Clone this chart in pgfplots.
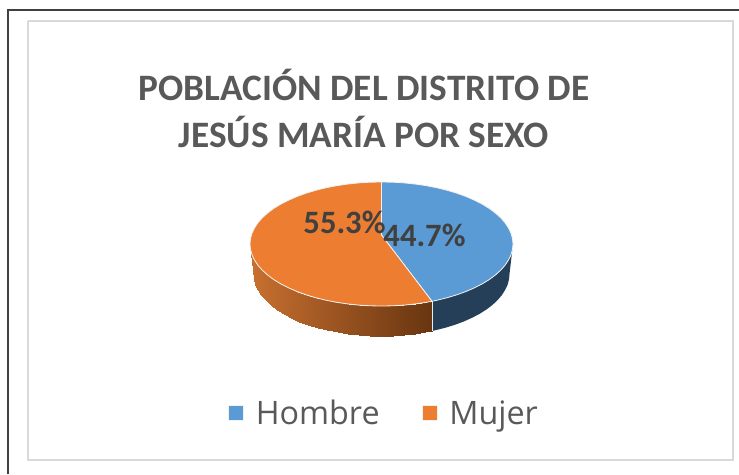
\documentclass[border=0pt]{standalone}
\usepackage{pgfplots}
\pgfplotsset{compat=1.18}
\usepackage{fontspec}
\setmainfont{Carlito}
\newfontfamily\legfont{Open Sans}
\definecolor{cblue}{HTML}{5B9BD5}
\definecolor{corange}{HTML}{ED7D31}
\definecolor{dblue}{HTML}{243F57}
\definecolor{ctext}{HTML}{595959}
\definecolor{clabel}{HTML}{404040}
\definecolor{cframe}{HTML}{D9D9D9}
\definecolor{cdark}{HTML}{404040}
\begin{document}
\begin{tikzpicture}
\begin{axis}[
  scale only axis, width=739pt, height=474pt,
  xmin=0, xmax=739, ymin=0, ymax=474, y dir=reverse,
  hide axis,
  colormap={side}{rgb255(0)=(200,112,48) rgb255(1)=(104,53,16)},
  point meta min=250, point meta max=432,
  legend columns=2,
  legend style={at={(axis cs:228,413)}, anchor=west, draw=none, fill=none,
    font=\legfont\fontsize{32.3}{36}\selectfont\color{ctext},
    inner sep=0pt, outer sep=0pt,
    /tikz/every even column/.append style={column sep=40pt}},
  legend cell align=left,
  legend image code/.code={\path[#1] (0pt,-7.5pt) rectangle (15pt,7.5pt); \path (25pt,0pt);},
]
\path (axis cs:0,0) (axis cs:739,474);
% frames
\addplot[forget plot, line width=1.3pt, color=cdark] coordinates {(8,474)(8,10)(739,10)};
\addplot[forget plot, line width=1.3pt, color=cframe] coordinates {(28,21)(733,21)(733,460)(28,460)(28,21)};
% blue side
\addplot[forget plot, fill=dblue, draw=none] coordinates {
(513,244)(512.5,249.4)(511,254.8)(508.5,260)(505.1,265.2)(500.7,270.2)(495.4,275)(489.2,279.6)(482.2,283.9)(474.5,287.8)(466,291.5)(456.9,294.8)(447.25,297.7)(437.1,300.2)(432,301.3)
(432,331)(435.6,330.2)(445.5,327.7)(454.9,324.8)(463.8,321.5)(472,317.8)(479.5,313.9)(486.3,309.6)(492.4,305)(497.5,300.2)(501.8,295.2)(505.1,290)(507.6,284.8)(509,279.4)(509.5,274)(513,244)};
% orange side
\addplot[forget plot, surf, shader=interp, mesh/rows=2, point meta=explicit]
table[x=x, y=y, meta=m] {
x y m
432 301.3 432
426.5 302.3 426.5
415.5 303.9 415.5
404.3 305.1 404.3
393 305.8 393
381.5 306 381.5
370 305.8 370
358.7 305.1 358.7
347.5 303.9 347.5
336.5 302.3 336.5
325.9 300.2 325.9
315.75 297.7 315.75
306.1 294.8 306.1
297 291.5 297
288.5 287.8 288.5
280.8 283.9 280.8
273.8 279.6 273.8
267.6 275 267.6
262.3 270.2 262.3
257.9 265.2 257.9
254.5 260 254.5
252 254.8 252
250.5 249.4 250.5
250 244 250
432 331 432
425.3 332.3 425.3
414.6 333.9 414.6
403.7 335.1 403.7
392.7 335.8 392.7
381.5 336 381.5
370.3 335.8 370.3
359.3 335.1 359.3
348.4 333.9 348.4
337.7 332.3 337.7
327.4 330.2 327.4
317.5 327.7 317.5
308.1 324.8 308.1
299.2 321.5 299.2
291 317.8 291
283.5 313.9 283.5
276.7 309.6 276.7
270.6 305 270.6
265.5 300.2 265.5
261.2 295.2 261.2
257.9 290 257.9
255.4 284.8 255.4
254 279.4 254
253.5 274 253.5
};
\addplot[forget plot, color=white!85!gray, line width=0.9pt] coordinates {(432,301.3)(432,331)};
% top slices
\addplot[fill=cblue, draw=white!90!gray, line width=0.8pt] coordinates {
(381.5,235)(381.5,182)(393,182.2)(404.3,182.9)(415.5,184.1)(426.5,185.7)(437.1,187.8)(447.25,190.3)(456.9,193.2)(466,196.5)(474.5,200.2)(482.2,204.1)(489.2,208.4)(495.4,213)(500.7,217.8)(505.1,222.8)(508.5,228)(511,233.2)(512.5,238.6)(513,244)
(512.5,249.4)(511,254.8)(508.5,260)(505.1,265.2)(500.7,270.2)(495.4,275)(489.2,279.6)(482.2,283.9)(474.5,287.8)(466,291.5)(456.9,294.8)(447.25,297.7)(437.1,300.2)(432,301.3)(381.5,235)};
\addlegendentry{Hombre}
\addplot[fill=corange, draw=white!90!gray, line width=0.8pt] coordinates {
(381.5,235)(432,301.3)(426.5,302.3)(415.5,303.9)(404.3,305.1)(393,305.8)(381.5,306)(370,305.8)(358.7,305.1)(347.5,303.9)(336.5,302.3)(325.9,300.2)(315.75,297.7)(306.1,294.8)(297,291.5)(288.5,287.8)(280.8,283.9)(273.8,279.6)(267.6,275)(262.3,270.2)(257.9,265.2)(254.5,260)(252,254.8)(250.5,249.4)(250,244)
(250.5,238.6)(252,233.2)(254.5,228)(257.9,222.8)(262.3,217.8)(267.6,213)(273.8,208.4)(280.8,204.1)(288.5,200.2)(297,196.5)(306.1,193.2)(315.75,190.3)(325.9,187.8)(336.5,185.7)(347.5,184.1)(358.7,182.9)(370,182.2)(381.5,182)(381.5,235)};
\addlegendentry{Mujer}
% texts
\node[anchor=base, font=\bfseries\fontsize{37.3}{40}\selectfont, text=ctext] at (axis cs:364,100) {POBLACIÓN DEL DISTRITO DE};
\node[anchor=base, font=\bfseries\fontsize{37.3}{40}\selectfont, text=ctext] at (axis cs:364,147) {JESÚS MARÍA POR SEXO};
\node[anchor=base, font=\bfseries\fontsize{32.6}{36}\selectfont, text=clabel] at (axis cs:344.5,233) {55.3\%};
\node[anchor=base, font=\bfseries\fontsize{32.6}{36}\selectfont, text=clabel] at (axis cs:424.5,246) {44.7\%};
\end{axis}
\end{tikzpicture}
\end{document}
